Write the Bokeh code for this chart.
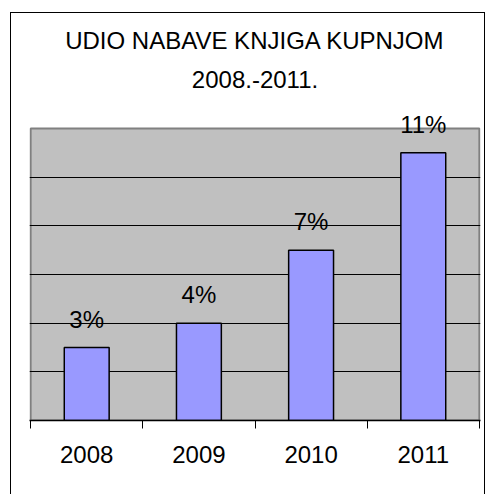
from bokeh.plotting import figure
from bokeh.models import (ColumnDataSource, FixedTicker, Grid, LabelSet, Title, LinearAxis, Range1d)
from bokeh.core.properties import value
from bokeh.embed import file_html
from bokeh.resources import INLINE
import numpy as np

years = ["2008", "2009", "2010", "2011"]
shares = [3, 4, 7, 11]
share_labels = ["3%", "4%", "7%", "11%"]
grid_values = [2, 4, 6, 8, 10]
axis_max = 12
title_lines = ["UDIO NABAVE KNJIGA KUPNJOM", "2008.-2011."]

FONT = "Liberation Sans"

n = len(years)
xpos = np.arange(n) + 0.5
src = ColumnDataSource(dict(x=xpos, top=shares, label=share_labels))

# frame spans canvas y=93..420; the grey area (0..axis_max) occupies the lowest 292px
frame_h = 327
grey_h = 292
y_end = axis_max * frame_h / grey_h
pad = 0.01

p = figure(width=475, height=484, output_backend="svg", toolbar_location=None,
           x_range=Range1d(-pad, n + pad), y_range=Range1d(0, y_end),
           x_axis_location=None, y_axis_location=None,
           min_border_left=18, min_border_right=6, min_border_top=80, min_border_bottom=77,
           background_fill_color="white", border_fill_color="white",
           margin=(12, 0, 0, 10), styles={"border": "1px solid black"})
p.outline_line_color = None
p.grid.visible = False

# grey plot area
p.quad(left=[0], right=[n], bottom=[0], top=[axis_max], fill_color="#C0C0C0",
       line_color="#808080", line_width=2, level="image")

grid = Grid(dimension=1, ticker=FixedTicker(ticks=grid_values),
            grid_line_color="black", grid_line_width=1)
p.add_layout(grid)

p.vbar(x="x", top="top", width=0.4, bottom=0, source=src,
       fill_color="#9999FF", line_color="black", line_width=1.5)

labels = LabelSet(x="x", y="top", text="label", source=src, y_offset=20,
                  text_align="center", text_baseline="alphabetic",
                  text_font=value(FONT), text_font_size="24px", text_color="black")
p.add_layout(labels)

xaxis = LinearAxis(ticker=FixedTicker(ticks=list(xpos), minor_ticks=list(range(n + 1))),
                   major_label_overrides={float(x): y for x, y in zip(xpos, years)})
xaxis.axis_line_color = "black"
xaxis.axis_line_width = 1.5
xaxis.major_tick_line_color = None
xaxis.major_tick_out = 0
xaxis.major_tick_in = 0
xaxis.minor_tick_line_color = "black"
xaxis.minor_tick_out = 8
xaxis.minor_tick_in = 0
xaxis.major_label_standoff = 17
xaxis.major_label_text_font = FONT
xaxis.major_label_text_font_size = "24px"
xaxis.major_label_text_color = "black"
p.add_layout(xaxis, "below")

t2 = Title(text=title_lines[1], align="center", text_font=FONT, text_font_size="24px",
           text_font_style="normal", text_color="black", standoff=12)
t1 = Title(text=title_lines[0], align="center", text_font=FONT, text_font_size="24px",
           text_font_style="normal", text_color="black", standoff=18)
p.add_layout(t2, "above")
p.add_layout(t1, "above")

open("out.html", "w").write(file_html(p, INLINE))
